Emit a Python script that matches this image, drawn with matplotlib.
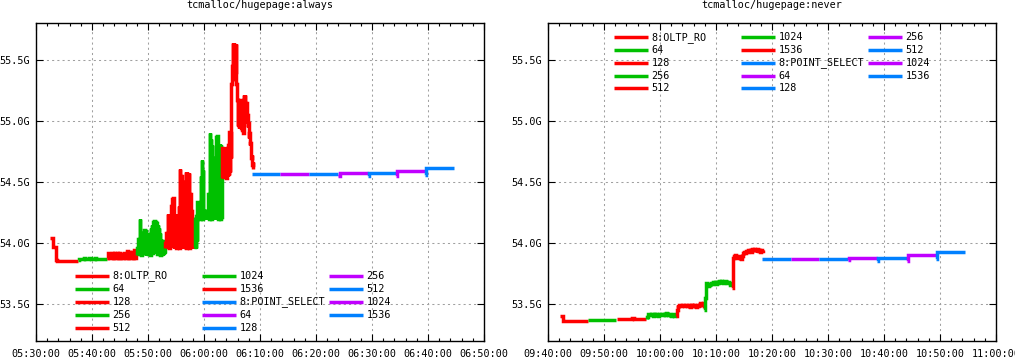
import matplotlib
matplotlib.use("Agg")
import matplotlib.pyplot as plt
import matplotlib.dates as mdates
from matplotlib.lines import Line2D
import pandas as pd

RED, GREEN, BLUE, PURPLE = "#ff0000", "#00c000", "#0080ff", "#c000ff"

titles = ["tcmalloc/hugepage:always", "tcmalloc/hugepage:never"]
days = ["2020-01-01", "2020-01-01"]
x_ranges = [("05:30:00", "06:50:00"), ("09:40:00", "11:00:00")]
y_ticks = [53.5, 54.0, 54.5, 55.0, 55.5]
y_tick_labels = ["53.5G", "54.0G", "54.5G", "55.0G", "55.5G"]
y_range = (53.197, 55.803)

legend_labels = ["8:OLTP_RO", "64", "128", "256", "512", "1024", "1536",
                 "8:POINT_SELECT", "64", "128", "256", "512", "1024", "1536"]
legend_colors = [RED, GREEN, RED, GREEN, RED, GREEN, RED,
                 BLUE, PURPLE, BLUE, PURPLE, BLUE, PURPLE, BLUE]

# ---- panel 1: hugepage:always  (start, step seconds, values in G) ----
a_oltp_8 = ("05:32:30", 15, [54.04, 54.04, 53.97, 53.97, 53.86, 53.855, 53.855, 53.856, 53.855, 53.855,
                             53.855, 53.856, 53.855, 53.855, 53.856, 53.855, 53.855, 53.855, 53.856, 53.855, 53.855])
a_oltp_64 = ("05:37:30", 15, [53.862, 53.868, 53.87, 53.868, 53.875, 53.87, 53.868, 53.87, 53.875, 53.868, 53.868,
                              53.87, 53.875, 53.868, 53.866, 53.87, 53.868, 53.872, 53.868, 53.87, 53.868, 53.866])
a_oltp_128 = ("05:42:45", 10, [53.875, 53.92, 53.88, 53.875, 53.88, 53.92, 53.875, 53.92, 53.88, 53.875, 53.92,
                               53.88, 53.92, 53.875, 53.88, 53.91, 53.875, 53.88, 53.915, 53.875, 53.88, 53.935,
                               53.88, 53.93, 53.875, 53.88, 53.925, 53.875, 53.88, 53.94, 53.88, 53.94])
a_oltp_256 = ("05:48:00", 6, [53.90, 53.96, 53.92, 54.03, 53.91, 54.20, 53.93, 54.07, 53.90, 54.05, 53.92, 54.08,
                              53.91, 54.11, 53.92, 54.10, 53.90, 54.06, 53.93, 54.07, 53.91, 54.04, 53.92, 54.03,
                              53.90, 54.12, 53.93, 54.15, 53.92, 54.17, 53.95, 54.18, 53.92, 54.17, 53.94, 54.16,
                              53.91, 54.15, 53.93, 54.12, 53.92, 54.08, 53.90, 54.03, 53.91, 53.99, 53.90, 54.02,
                              53.91, 53.98, 53.92])
a_oltp_512 = ("05:53:00", 6, [53.96, 54.00, 53.97, 54.08, 53.98, 54.24, 53.97, 54.15, 53.96, 54.12, 53.98, 54.30,
                              53.97, 54.36, 54.00, 54.37, 53.96, 54.10, 53.98, 54.19, 53.96, 54.24, 53.98, 54.14,
                              53.97, 54.30, 53.96, 54.61, 53.98, 54.55, 53.97, 54.40, 53.96, 54.38, 53.98, 54.50,
                              53.97, 54.58, 53.96, 54.585, 53.98, 54.45, 53.97, 54.57, 53.96, 54.40, 53.98, 54.26,
                              53.97, 54.20, 53.96, 54.10, 53.97, 54.00])
a_oltp_1024 = ("05:58:18", 6, [53.97, 54.20, 53.96, 54.22, 54.02, 54.34, 54.20, 54.30, 54.21, 54.32, 54.20, 54.55,
                               54.22, 54.68, 54.20, 54.60, 54.21, 54.26, 54.20, 54.24, 54.21, 54.26, 54.20, 54.25,
                               54.21, 54.40, 54.20, 54.90, 54.22, 54.85, 54.20, 54.80, 54.21, 54.60, 54.20, 54.55,
                               54.22, 54.70, 54.20, 54.87, 54.21, 54.88, 54.20, 54.60, 54.22, 54.81, 54.20, 54.80,
                               54.21, 54.78])
a_oltp_1536 = ("06:03:12", 6, [54.53, 54.78, 54.55, 54.79, 54.54, 54.78, 54.56, 54.79, 54.53, 54.78, 54.55, 54.80,
                               54.56, 54.91, 54.58, 54.90, 54.70, 55.30, 55.45, 55.64, 55.35, 55.64, 55.34, 55.62,
                               55.40, 55.63, 55.30, 55.17, 54.96, 55.15, 54.94, 55.12, 54.95, 55.17, 54.94, 55.10,
                               54.93, 55.18, 54.90, 55.21, 55.00, 55.21, 55.02, 55.15, 54.98, 55.05, 54.95, 54.98,
                               54.86, 54.90, 54.80, 54.82, 54.70, 54.72, 54.64, 54.66, 54.61])
a_ps_8 = (["06:08:30", "06:13:36"], [54.563, 54.563])
a_ps_64 = (["06:13:36", "06:18:48"], [54.563, 54.563])
a_ps_128 = (["06:18:48", "06:24:00"], [54.563, 54.563])
a_ps_256 = (["06:24:00", "06:24:12", "06:29:12"], [54.55, 54.571, 54.571])
a_ps_512 = (["06:29:12", "06:29:24", "06:34:12"], [54.55, 54.574, 54.574])
a_ps_1024 = (["06:34:12", "06:34:24", "06:39:24"], [54.55, 54.588, 54.588])
a_ps_1536 = (["06:39:24", "06:39:36", "06:44:42"], [54.56, 54.615, 54.615])

# ---- panel 2: hugepage:never ----
n_oltp_8 = ("09:42:08", 15, [53.405, 53.40, 53.36, 53.358, 53.358, 53.358, 53.36, 53.358, 53.358, 53.358, 53.358,
                             53.36, 53.358, 53.358, 53.358, 53.358, 53.36, 53.358, 53.358, 53.358, 53.36])
n_oltp_64 = ("09:47:06", 15, [53.366, 53.368, 53.368, 53.369, 53.368, 53.37, 53.369, 53.37, 53.369, 53.37, 53.371,
                              53.37, 53.371, 53.37, 53.371, 53.372, 53.371, 53.372, 53.371, 53.372, 53.372])
n_oltp_128 = ("09:52:18", 15, [53.374, 53.376, 53.378, 53.377, 53.378, 53.379, 53.378, 53.379, 53.378, 53.38, 53.379,
                               53.384, 53.38, 53.379, 53.38, 53.379, 53.38, 53.379, 53.38, 53.38, 53.379, 53.38])
n_oltp_256 = ("09:57:36", 10, [53.38, 53.39, 53.415, 53.42, 53.41, 53.415, 53.42, 53.405, 53.415, 53.41, 53.42,
                               53.41, 53.405, 53.415, 53.41, 53.405, 53.415, 53.42, 53.41, 53.415, 53.41, 53.425,
                               53.415, 53.41, 53.42, 53.41, 53.405, 53.41, 53.415, 53.405, 53.41, 53.405])
n_oltp_512 = ("10:02:48", 10, [53.40, 53.455, 53.49, 53.485, 53.495, 53.49, 53.485, 53.495, 53.49, 53.48, 53.49,
                               53.495, 53.485, 53.49, 53.48, 53.475, 53.49, 53.485, 53.495, 53.485, 53.49, 53.48,
                               53.475, 53.49, 53.485, 53.495, 53.505, 53.49, 53.50, 53.505, 53.465])
n_oltp_1024 = ("10:07:54", 10, [53.45, 53.55, 53.67, 53.66, 53.645, 53.66, 53.665, 53.67, 53.665, 53.68, 53.67,
                                53.675, 53.68, 53.665, 53.68, 53.675, 53.685, 53.68, 53.69, 53.68, 53.67, 53.685,
                                53.69, 53.68, 53.675, 53.68, 53.665, 53.67, 53.66, 53.665, 53.66])
n_oltp_1536 = ("10:12:54", 10, [53.63, 53.875, 53.89, 53.90, 53.885, 53.875, 53.89, 53.895, 53.88, 53.87, 53.895,
                                53.91, 53.92, 53.93, 53.92, 53.935, 53.93, 53.94, 53.935, 53.945, 53.93, 53.95,
                                53.94, 53.955, 53.94, 53.945, 53.93, 53.95, 53.935, 53.945, 53.93, 53.94, 53.935,
                                53.945])
n_ps_8 = (["10:18:18", "10:23:24"], [53.866, 53.866])
n_ps_64 = (["10:23:24", "10:28:24"], [53.866, 53.866])
n_ps_128 = (["10:28:24", "10:33:36"], [53.866, 53.866])
n_ps_256 = (["10:33:36", "10:33:48", "10:38:48"], [53.862, 53.874, 53.874])
n_ps_512 = (["10:38:48", "10:39:00", "10:44:03"], [53.855, 53.877, 53.877])
n_ps_1024 = (["10:44:03", "10:44:15", "10:49:12"], [53.855, 53.90, 53.90])
n_ps_1536 = (["10:49:12", "10:49:24", "10:54:24"], [53.866, 53.926, 53.926])

panels = [
    [a_oltp_8, a_oltp_64, a_oltp_128, a_oltp_256, a_oltp_512, a_oltp_1024, a_oltp_1536,
     a_ps_8, a_ps_64, a_ps_128, a_ps_256, a_ps_512, a_ps_1024, a_ps_1536],
    [n_oltp_8, n_oltp_64, n_oltp_128, n_oltp_256, n_oltp_512, n_oltp_1024, n_oltp_1536,
     n_ps_8, n_ps_64, n_ps_128, n_ps_256, n_ps_512, n_ps_1024, n_ps_1536],
]


def series_xy(day, seg):
    if isinstance(seg[0], str):
        start, step, vals = seg
        t0 = pd.Timestamp(f"{day} {start}")
        times = [t0 + pd.Timedelta(seconds=step * i) for i in range(len(vals))]
    else:
        tlist, vals = seg
        times = [pd.Timestamp(f"{day} {t}") for t in tlist]
    return times, vals


W, H = 1015, 359
DPI = 100
FONT = "DejaVu Sans Mono"
FS = 7.3
plt.rcParams['font.family'] = FONT
fig = plt.figure(figsize=(W / DPI, H / DPI), dpi=DPI)

axes_px = [(36, 23, 484, 341), (548, 23, 996, 341)]
legend_px = [((75, 202, 329), 275.7, 13.0), ((614, 741, 868), 37.3, 12.75)]

for p, (x0, y0, x1, y1) in enumerate(axes_px):
    ax = fig.add_axes([x0 / W, 1 - y1 / H, (x1 - x0) / W, (y1 - y0) / H])
    day = days[p]
    for seg, col in zip(panels[p], legend_colors):
        t, v = series_xy(day, seg)
        ax.plot(t, v, color=col, lw=2.5, drawstyle='steps-post',
                solid_capstyle='butt', solid_joinstyle='miter')
    ax.set_xlim(pd.Timestamp(f"{day} {x_ranges[p][0]}"), pd.Timestamp(f"{day} {x_ranges[p][1]}"))
    ax.set_ylim(*y_range)
    ax.set_yticks(y_ticks)
    ax.set_yticklabels(y_tick_labels)
    ax.xaxis.set_major_locator(mdates.MinuteLocator(byminute=range(0, 60, 10)))
    ax.xaxis.set_minor_locator(mdates.MinuteLocator(byminute=range(0, 60, 2)))
    ax.xaxis.set_major_formatter(mdates.DateFormatter('%H:%M:%S'))
    ax.tick_params(axis='both', which='both', direction='in', top=True, right=True,
                   labelsize=FS, colors='black')
    ax.tick_params(axis='x', which='major', length=5, width=0.8, pad=6)
    ax.tick_params(axis='x', which='minor', length=2.5, width=0.8)
    ax.tick_params(axis='y', which='major', length=5, width=0.8, pad=4.6)
    ax.grid(True, which='major', color='#a0a0a0', lw=0.75, linestyle=(0, (2.0, 3.0)))
    for s in ax.spines.values():
        s.set_linewidth(1.0)
    ax.set_axisbelow(True)
    fig.text(((x0 + x1) / 2) / W, 1 - 7.5 / H, titles[p], ha='center', va='baseline', fontsize=FS)

    cols, ry0, rdy = legend_px[p]
    for i, (lab, col) in enumerate(zip(legend_labels, legend_colors)):
        c, r = divmod(i, 5)
        lx = cols[c]
        ly = ry0 + r * rdy
        fig.add_artist(Line2D([lx / W, (lx + 34) / W], [1 - ly / H, 1 - ly / H],
                              transform=fig.transFigure, color=col, lw=2.5, solid_capstyle='butt'))
        fig.text((lx + 37.5) / W, 1 - ly / H, lab, ha='left', va='center', fontsize=FS)

fig.savefig("out.png", dpi=DPI)
